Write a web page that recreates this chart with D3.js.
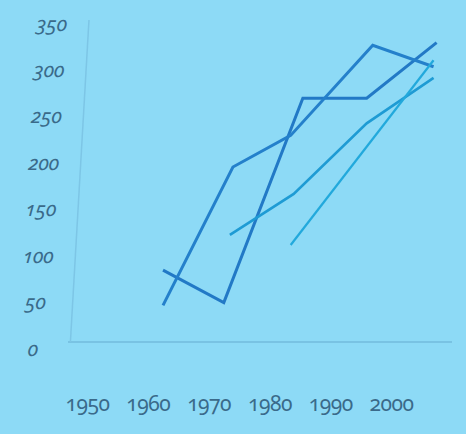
<!DOCTYPE html>
<html>
<head>
<meta charset="utf-8">
<script src="https://cdn.jsdelivr.net/npm/d3@7/dist/d3.min.js"></script>
<style>
  html, body { margin: 0; padding: 0; background: #8ddaf6; }
  svg { display: block; }
  text { font-family: "Noto Sans", "DejaVu Serif", serif; font-feature-settings: "onum" 1; font-variant-numeric: oldstyle-nums; fill: #3a6a8a; }
</style>
</head>
<body>
<svg id="chart" width="466" height="434"></svg>
<script>
// ---- data ----
const xTicks = [1950, 1960, 1970, 1980, 1990, 2000];
const yTicks = [0, 50, 100, 150, 200, 250, 300, 350];

const series1Years  = [1962.5, 1972.5, 1985.5, 1996, 2007.5];
const series1Values = [85, 50, 270, 270, 330];

const series2Years  = [1962.5, 1974, 1983.5, 1997, 2007];
const series2Values = [47, 196, 230, 327, 304];

const series3Years  = [1973.5, 1984, 1996, 2007];
const series3Values = [123, 167, 243, 292];

const series4Years  = [1983.5, 2007];
const series4Values = [112, 311];

const seriesList = [
  { years: series1Years, values: series1Values, color: "#2279c6", width: 3 },
  { years: series2Years, values: series2Values, color: "#2480cb", width: 3 },
  { years: series3Years, values: series3Values, color: "#1e9bd4", width: 2.6 },
  { years: series4Years, values: series4Values, color: "#22a9dc", width: 2.2 }
];

// ---- scales ----
const x = d3.scaleLinear().domain([1950, 2000]).range([87, 391]);
const y = d3.scaleLinear().domain([0, 350]).range([349, 24]);

const svg = d3.select("#chart");

// x-axis baseline
svg.append("line")
  .attr("x1", 68).attr("x2", 452)
  .attr("y1", y(0) - 7).attr("y2", y(0) - 7)
  .attr("stroke", "#79c3e3").attr("stroke-width", 2);

// y axis (slightly tilted like the photographed original)
const base = y(0);
const yAxisG = svg.append("g")
  .attr("transform", `translate(0,${base}) skewX(-3.3) translate(0,${-base})`);

yAxisG.append("line")
  .attr("x1", 70).attr("x2", 70)
  .attr("y1", y(0) - 7).attr("y2", y(350) - 4)
  .attr("stroke", "#7dc6e6").attr("stroke-width", 1.5);

const yAxis = d3.axisLeft(y).tickValues(yTicks).tickSize(0).tickPadding(0);
const ya = yAxisG.append("g").attr("transform", "translate(33,0)").call(yAxis);
ya.select(".domain").remove();
ya.selectAll("text")
  .attr("text-anchor", "middle")
  .attr("dy", "0.3em")
  .style("font-size", "20px")
  .style("font-style", "italic")
  .style("fill", "#3a6a8a");

// x axis labels
const xAxis = d3.axisBottom(x).tickValues(xTicks).tickFormat(d3.format("d")).tickSize(0).tickPadding(0);
const xa = svg.append("g").attr("transform", "translate(0,406)").call(xAxis);
xa.select(".domain").remove();
xa.selectAll("text")
  .attr("dy", "0.25em")
  .style("font-size", "21px")
  .style("letter-spacing", "-0.5px")
  .style("fill", "#3a6a8a");

// lines
const lineGen = d3.line().x(d => x(d[0])).y(d => y(d[1]));
seriesList.forEach(s => {
  const pts = s.years.map((yr, i) => [yr, s.values[i]]);
  svg.append("path")
    .attr("d", lineGen(pts))
    .attr("fill", "none")
    .attr("stroke", s.color)
    .attr("stroke-width", s.width)
    .attr("stroke-linejoin", "miter")
    .attr("stroke-linecap", "butt");
});
</script>
</body>
</html>
